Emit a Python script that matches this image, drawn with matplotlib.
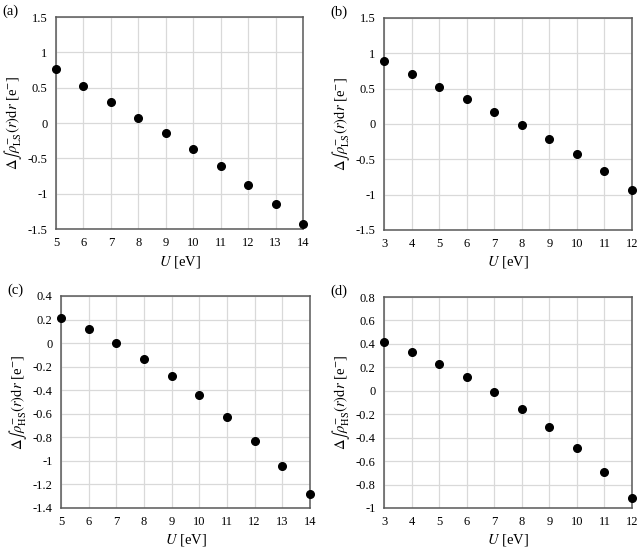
import matplotlib
matplotlib.use('Agg')
import matplotlib.pyplot as plt

plt.rcParams['font.family'] = ['Liberation Serif', 'DejaVu Serif']
plt.rcParams['mathtext.fontset'] = 'stix'

# データ
u_a = [5, 6, 7, 8, 9, 10, 11, 12, 13, 14]
val_a = [0.77, 0.52, 0.30, 0.075, -0.146, -0.373, -0.613, -0.873, -1.14, -1.43]

u_b = [3, 4, 5, 6, 7, 8, 9, 10, 11, 12]
val_b = [0.89, 0.71, 0.53, 0.355, 0.175, -0.01, -0.213, -0.43, -0.67, -0.93]

u_c = [5, 6, 7, 8, 9, 10, 11, 12, 13, 14]
val_c = [0.217, 0.116, -0.003, -0.135, -0.28, -0.443, -0.626, -0.827, -1.044, -1.28]

u_d = [3, 4, 5, 6, 7, 8, 9, 10, 11, 12]
val_d = [0.42, 0.33, 0.23, 0.12, -0.01, -0.153, -0.31, -0.49, -0.69, -0.915]

yticks_ls = [-1.5, -1, -0.5, 0, 0.5, 1, 1.5]
yticks_c = [-1.4, -1.2, -1, -0.8, -0.6, -0.4, -0.2, 0, 0.2, 0.4]
yticks_d = [-1, -0.8, -0.6, -0.4, -0.2, 0, 0.2, 0.4, 0.6, 0.8]

label_ls = r'$\Delta\int\rho^{-}_{\mathrm{LS}}(r)\mathrm{d}r$ [e$^{-}$]'
label_hs = r'$\Delta\int\rho^{-}_{\mathrm{HS}}(r)\mathrm{d}r$ [e$^{-}$]'

W, H = 640, 548
fig = plt.figure(figsize=(W / 100, H / 100), dpi=100)


def tick_fmt(v):
    s = ('%.1f' % v).rstrip('0').rstrip('.')
    return '0' if s in ('-0', '0') else s


def panel(box, u, vals, yticks, ylabel, tag):
    x0, y0, x1, y1 = box
    ax = fig.add_axes([x0 / W, 1 - y1 / H, (x1 - x0) / W, (y1 - y0) / H])
    ax.plot(u, vals, 'o', color='black', ms=5.5, zorder=3, clip_on=False)
    ax.set_xlim(u[0], u[-1])
    ax.set_xticks(u)
    ax.set_ylim(yticks[0], yticks[-1])
    ax.set_yticks(yticks)
    ax.set_yticklabels([tick_fmt(v) for v in yticks])
    ax.grid(True, color='#d9d9d9', lw=0.9)
    ax.set_axisbelow(True)
    ax.tick_params(length=0, labelsize=9, pad=6)
    for s in ax.spines.values():
        s.set_color('#595959')
        s.set_linewidth(1.1)
    ax.set_xlabel(r'$U$ [eV]', fontsize=10.5, labelpad=3)
    ax.set_ylabel(ylabel, fontsize=10.5, labelpad=3)
    fig.text((x0 - 54) / W, 1 - (y0 - 6) / H, tag, fontsize=10.5, va='center')
    return ax


panel((56, 17, 303, 229), u_a, val_a, yticks_ls, label_ls, '(a)')
panel((384, 18, 632, 230), u_b, val_b, yticks_ls, label_ls, '(b)')
panel((61, 296, 310, 508), u_c, val_c, yticks_c, label_hs, '(c)')
panel((384, 297, 632, 508), u_d, val_d, yticks_d, label_hs, '(d)')

plt.savefig('out.png', dpi=100)
